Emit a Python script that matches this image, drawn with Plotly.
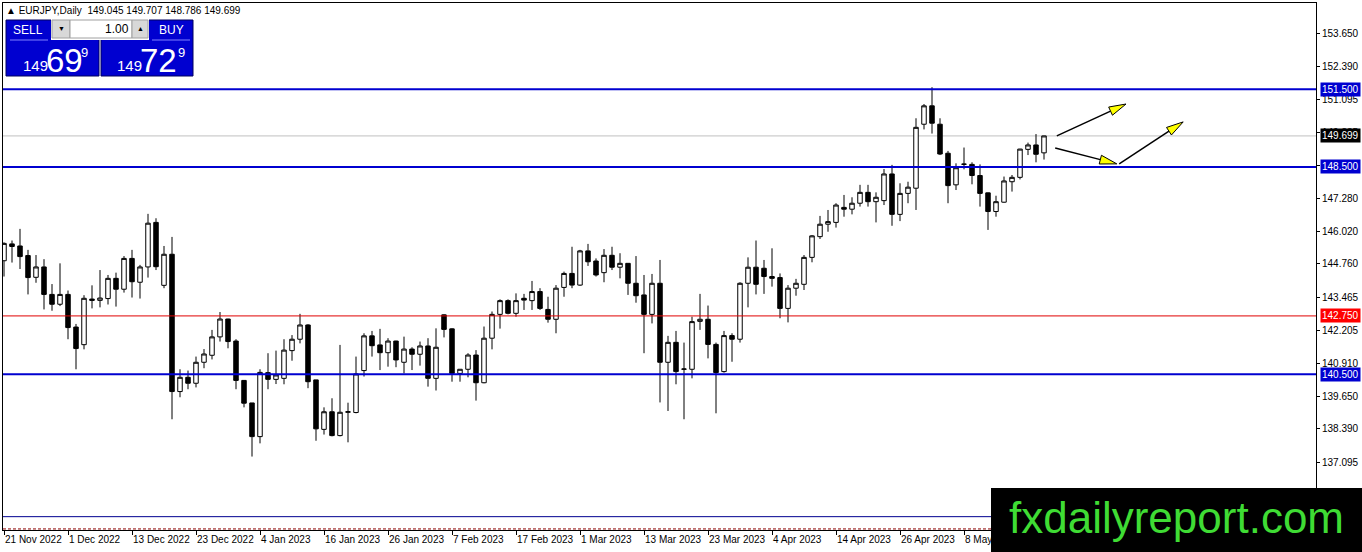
import math
import pandas as pd
import plotly.graph_objects as go

# ---------------- canvas / plot geometry ----------------
W, H = 1362, 552
ML, MR, MT, MB = 3, 46, 3, 22
PW, PH = W - ML - MR, H - MT - MB
X_RANGE = [-0.125, 164.0]
Y_RANGE = [134.485, 154.83]

# ---------------- data ----------------
dates = pd.bdate_range("2022-11-21", periods=131)
x = list(range(len(dates)))

opens = [144.88, 145.53, 145.45, 145.08, 144.24, 144.64, 143.58, 143.20, 143.58, 142.32,
         141.64, 143.40, 143.35, 143.42, 144.20, 143.78, 144.97, 144.05, 144.64, 146.36,
         143.93, 145.13, 139.83, 140.38, 140.15, 140.96, 141.23, 141.94, 142.63, 141.78,
         140.26, 139.39, 138.09, 140.56, 140.30, 140.34, 141.41, 141.85, 142.40, 140.28,
         138.37, 139.05, 138.13, 139.03, 139.02, 140.64, 141.98, 141.63, 141.33, 141.78,
         140.96, 141.47, 141.27, 141.59, 140.34, 142.79, 142.25, 140.53, 140.69, 141.24,
         140.17, 141.89, 142.81, 143.34, 142.85, 143.43, 143.34, 143.69, 143.00, 142.62,
         143.85, 144.39, 143.94, 145.26, 144.87, 144.42, 145.09, 144.63, 144.78, 144.01,
         143.56, 142.81, 144.01, 140.96, 141.73, 140.69, 140.69, 142.54, 142.62, 141.65,
         140.60, 141.99, 141.85, 144.01, 144.63, 144.59, 144.27, 144.23, 143.04, 143.82,
         143.97, 145.01, 145.81, 146.29, 146.36, 146.94, 146.87, 147.10, 147.52, 147.16,
         147.20, 148.23, 146.67, 147.48, 147.68, 150.15, 150.86, 150.15, 149.03, 147.81,
         148.60, 148.60, 148.17, 147.50, 146.78, 147.14, 147.93, 148.10, 149.18, 149.35,
         149.045]
highs = [145.59, 145.66, 146.11, 145.30, 145.10, 144.94, 143.98, 144.78, 143.73, 142.44,
         143.55, 143.93, 144.52, 144.33, 144.42, 145.06, 145.30, 144.72, 146.69, 146.52,
         145.45, 145.80, 140.69, 140.64, 141.18, 141.47, 142.21, 142.90, 142.64, 141.85,
         140.27, 139.39, 140.69, 141.31, 141.41, 141.85, 142.01, 142.83, 142.43, 140.28,
         139.22, 139.57, 141.63, 139.40, 141.18, 142.08, 142.17, 142.25, 141.89, 141.79,
         141.95, 141.54, 141.76, 141.89, 142.27, 142.81, 142.27, 140.69, 141.31, 141.43,
         142.34, 142.92, 143.39, 143.39, 143.62, 143.60, 144.10, 143.82, 143.49, 143.94,
         144.46, 145.42, 145.30, 145.53, 144.97, 145.33, 145.42, 145.17, 144.78, 145.06,
         144.33, 144.37, 144.91, 141.98, 142.17, 141.72, 142.72, 143.60, 143.15, 141.72,
         142.17, 142.08, 144.05, 145.01, 145.66, 144.91, 145.36, 144.39, 143.94, 144.18,
         145.10, 145.87, 146.61, 146.84, 147.10, 147.42, 147.33, 147.81, 147.81, 147.52,
         148.42, 148.58, 147.87, 147.93, 150.38, 150.93, 151.58, 150.38, 149.12, 148.64,
         149.25, 148.68, 148.60, 147.51, 147.39, 148.13, 148.19, 149.20, 149.44, 149.77,
         149.707]
lows = [144.27, 144.81, 144.56, 143.58, 144.03, 143.00, 142.95, 143.13, 141.85, 140.69,
        141.46, 143.04, 143.08, 143.19, 143.11, 143.65, 143.46, 143.42, 144.23, 144.52,
        143.82, 138.76, 139.61, 139.92, 139.99, 140.73, 141.07, 141.76, 141.50, 139.92,
        139.22, 137.32, 137.83, 139.92, 140.12, 140.11, 141.02, 141.69, 139.96, 137.93,
        138.17, 138.10, 138.10, 137.87, 138.99, 140.41, 141.18, 140.66, 140.79, 140.77,
        140.53, 140.66, 140.83, 140.02, 139.87, 141.92, 140.21, 140.21, 140.38, 139.48,
        140.15, 141.46, 142.26, 142.81, 142.72, 142.98, 142.98, 142.98, 142.49, 142.08,
        143.49, 143.82, 143.91, 144.68, 144.27, 144.05, 144.52, 144.20, 143.56, 143.26,
        141.31, 142.46, 139.41, 139.08, 140.11, 138.76, 140.34, 142.21, 141.11, 138.99,
        140.56, 140.98, 141.72, 143.08, 143.58, 143.60, 143.88, 142.66, 142.50, 143.53,
        143.75, 144.82, 145.72, 146.00, 146.16, 146.58, 146.67, 146.97, 146.97, 146.36,
        147.03, 146.23, 146.41, 147.10, 146.84, 149.95, 149.79, 148.96, 147.10, 147.61,
        148.41, 147.83, 146.97, 146.07, 146.58, 147.12, 147.55, 148.02, 148.96, 148.68,
        148.786]
closes = [145.55, 145.43, 145.04, 144.23, 144.64, 143.58, 143.20, 143.58, 142.30, 141.49,
          143.43, 143.35, 143.44, 144.20, 143.78, 144.97, 144.07, 144.64, 146.33, 144.65,
          145.13, 139.83, 140.38, 140.15, 140.96, 141.28, 141.94, 142.63, 141.76, 140.26,
          139.38, 138.09, 140.57, 140.30, 140.47, 141.43, 141.85, 142.40, 140.21, 138.39,
          139.05, 138.13, 139.03, 139.05, 140.51, 141.98, 141.60, 141.33, 141.78, 141.05,
          141.47, 141.27, 141.59, 140.34, 141.54, 142.23, 140.53, 140.69, 141.24, 140.17,
          141.89, 142.81, 143.34, 142.85, 143.34, 143.36, 143.69, 143.04, 142.62, 143.82,
          144.39, 143.94, 145.26, 144.84, 144.33, 145.09, 144.63, 144.78, 144.01, 143.53,
          142.81, 144.01, 140.96, 141.73, 140.60, 140.70, 142.53, 142.62, 141.65, 140.56,
          141.99, 141.85, 144.01, 144.63, 143.97, 144.27, 144.20, 143.04, 143.82, 144.01,
          145.01, 145.84, 146.29, 146.39, 147.03, 146.87, 147.10, 147.52, 147.16, 147.33,
          148.23, 146.67, 147.48, 147.72, 150.03, 150.86, 150.19, 149.00, 147.78, 148.47,
          148.61, 148.17, 147.48, 146.78, 147.16, 147.96, 148.10, 149.19, 149.35, 148.99,
          149.699]

level_prices = [151.5, 148.5, 140.5]
level_labels = ["151.500", "148.500", "140.500"]
pivot_price, pivot_label = 142.75, "142.750"
bid_price, bid_label = 149.699, "149.699"
bottom_line_price = 135.0

ytick_vals = [153.650, 152.390, 151.095, 149.835, 148.540, 147.280, 146.020, 144.760,
              143.465, 142.205, 140.910, 139.650, 138.390, 137.095]
xtick_idx = list(range(0, 121, 8))
xtick_text = [f"{dates[i].day} {dates[i].strftime('%b %Y')}" for i in xtick_idx]

# arrows drawn on the chart: (x start, price start, x end, price end)
arrows = [(131.6, 149.70, 140.25, 150.93),
          (131.4, 149.23, 139.10, 148.62),
          (139.4, 148.62, 147.40, 150.24)]

header_text = "▲ EURJPY,Daily  149.045 149.707 148.786 149.699"
volume_text = "1.00"
sell_big, sell_pre, sell_sup = "69", "149", "9"
buy_big, buy_pre, buy_sup = "72", "149", "9"

BLUE = "#0000d0"
FONT = "Liberation Sans, Arial, sans-serif"


def PX(px):
    return (px - ML) / PW


def PY(py):
    return (H - MB - py) / PH


fig = go.Figure()
fig.add_trace(go.Candlestick(
    x=x, open=opens, high=highs, low=lows, close=closes,
    increasing=dict(line=dict(color="black", width=1), fillcolor="white"),
    decreasing=dict(line=dict(color="black", width=1), fillcolor="black"),
    whiskerwidth=0, showlegend=False, hoverinfo="skip"))

shapes = []
# horizontal lines
for p in level_prices:
    shapes.append(dict(type="line", xref="paper", x0=0, x1=1, yref="y", y0=p, y1=p,
                       line=dict(color=BLUE, width=2), layer="above"))
shapes.append(dict(type="line", xref="paper", x0=0, x1=1, yref="y", y0=pivot_price, y1=pivot_price,
                   line=dict(color="#e00000", width=1), layer="above"))
shapes.append(dict(type="line", xref="paper", x0=0, x1=1, yref="y", y0=bid_price, y1=bid_price,
                   line=dict(color="#c0c0c0", width=1), layer="below"))
shapes.append(dict(type="line", xref="paper", x0=0, x1=1, yref="y", y0=bottom_line_price,
                   y1=bottom_line_price, line=dict(color="#000090", width=1), layer="above"))
shapes.append(dict(type="line", xref="paper", x0=0, x1=1, yref="paper", y0=0.002, y1=0.002,
                   line=dict(color="#8b0000", width=1, dash="3px,2px"), layer="above"))

# arrows (black shaft, yellow head with black outline)
sx = PW / (X_RANGE[1] - X_RANGE[0])
sy = PH / (Y_RANGE[1] - Y_RANGE[0])
for (xa, ya, xb, yb) in arrows:
    dx, dy = (xb - xa) * sx, (yb - ya) * sy
    L = math.hypot(dx, dy)
    ux, uy = dx / L, dy / L
    hl, hw = 17, 4.5
    bxp, byp = -ux * hl, -uy * hl
    nx, ny = -uy, ux
    pts = [(0, 0), (bxp + nx * hw, byp + ny * hw), (bxp - nx * hw, byp - ny * hw)]
    dpts = [(xb + a / sx, yb + b / sy) for a, b in pts]
    shapes.append(dict(type="line", xref="x", yref="y", x0=xa, y0=ya,
                       x1=xb + bxp / sx, y1=yb + byp / sy,
                       line=dict(color="black", width=1.5), layer="above"))
    path = "M {} {} L {} {} L {} {} Z".format(dpts[0][0], dpts[0][1], dpts[1][0], dpts[1][1],
                                              dpts[2][0], dpts[2][1])
    shapes.append(dict(type="path", xref="x", yref="y", path=path, fillcolor="#ffff00",
                       line=dict(color="black", width=1), layer="above"))


def rect(x0, y0, x1, y1, fill, line=None, lw=0):
    shapes.append(dict(type="rect", xref="paper", yref="paper",
                       x0=PX(x0), x1=PX(x1), y0=PY(y1), y1=PY(y0),
                       fillcolor=fill, line=dict(color=line or fill, width=lw), layer="above"))


# trade panel
rect(6, 20, 99, 76, BLUE, "#000060", 1)
rect(101, 20, 193, 76, BLUE, "#000060", 1)
rect(51, 19, 149, 40, "white")
rect(52, 20, 70, 38, "#d8d8d8", "#a0a0a0", 1)
rect(70, 20, 132, 38, "white", "#a0a0a0", 1)
rect(132, 20, 148, 38, "#d8d8d8", "#a0a0a0", 1)
for (a, b) in [(10, 48), (152, 190)]:
    shapes.append(dict(type="line", xref="paper", yref="paper", x0=PX(a), x1=PX(b),
                       y0=PY(40), y1=PY(40), line=dict(color="#8080ff", width=1), layer="above"))
# logo box
rect(991, 488, 1362, 552, "black")

annotations = []


def txt(t, px, py, size, color="black", xanchor="left", yanchor="middle", bg=None, family=FONT):
    annotations.append(dict(text=t, xref="paper", yref="paper", x=PX(px), y=PY(py),
                            xanchor=xanchor, yanchor=yanchor, showarrow=False,
                            font=dict(size=size, color=color, family=family),
                            bgcolor=bg, borderpad=0))


txt(header_text, 5, 10, 10)
txt("SELL", 28, 30, 12, "white", "center")
txt("BUY", 171, 30, 12, "white", "center")
txt("▼", 61, 29, 7, "black", "center")
txt("▲", 140, 29, 7, "black", "center")
txt(volume_text, 130, 29, 12, "black", "right")
txt(sell_pre, 22, 66, 15, "white", "left")
txt(sell_big, 45, 60, 33, "white", "left")
txt(sell_sup, 84, 52, 13, "white", "center")
txt(buy_pre, 116, 66, 15, "white", "left")
txt(buy_big, 139, 60, 33, "white", "left")
txt(buy_sup, 181, 52, 13, "white", "center")
txt("fxdailyreport.com", 1176, 517, 44, "#3fdc34", "center")

# right price labels
for p, lab in zip(level_prices, level_labels):
    annotations.append(dict(text=lab, xref="paper", x=1, xshift=4, yref="y", y=p,
                            xanchor="left", yanchor="middle", showarrow=False,
                            font=dict(size=10, color="white", family=FONT), bgcolor=BLUE, borderpad=1))
annotations.append(dict(text=pivot_label, xref="paper", x=1, xshift=4, yref="y", y=pivot_price,
                        xanchor="left", yanchor="middle", showarrow=False,
                        font=dict(size=10, color="white", family=FONT), bgcolor="#ff0000", borderpad=1))
annotations.append(dict(text=bid_label, xref="paper", x=1, xshift=4, yref="y", y=bid_price,
                        xanchor="left", yanchor="middle", showarrow=False,
                        font=dict(size=10, color="white", family=FONT), bgcolor="black", borderpad=1))

fig.update_layout(
    width=W, height=H, margin=dict(l=ML, r=MR, t=MT, b=MB, autoexpand=False),
    paper_bgcolor="white", plot_bgcolor="white",
    boxgap=0.2, boxgroupgap=0.3,
    showlegend=False, shapes=shapes, annotations=annotations,
    font=dict(family=FONT, size=10, color="black"),
    xaxis=dict(range=X_RANGE, showgrid=False, zeroline=False, showline=True, linecolor="black",
               linewidth=1, mirror=True, ticks="outside", ticklen=4, tickcolor="black",
               tickvals=xtick_idx, ticktext=xtick_text, ticklabelposition="outside right",
               tickangle=0, tickfont=dict(size=10, family=FONT), rangeslider=dict(visible=False)),
    yaxis=dict(range=Y_RANGE, side="right", showgrid=False, zeroline=False, showline=True,
               linecolor="black", linewidth=1, mirror=True, ticks="outside", ticklen=3,
               tickcolor="black", tickvals=ytick_vals, ticktext=[f"{v:.3f}" for v in ytick_vals],
               tickfont=dict(size=10, family=FONT)),
)

fig.write_html("out.html", config={"displayModeBar": False},
               post_script="document.body.style.margin='0px';document.body.style.padding='0px';")
